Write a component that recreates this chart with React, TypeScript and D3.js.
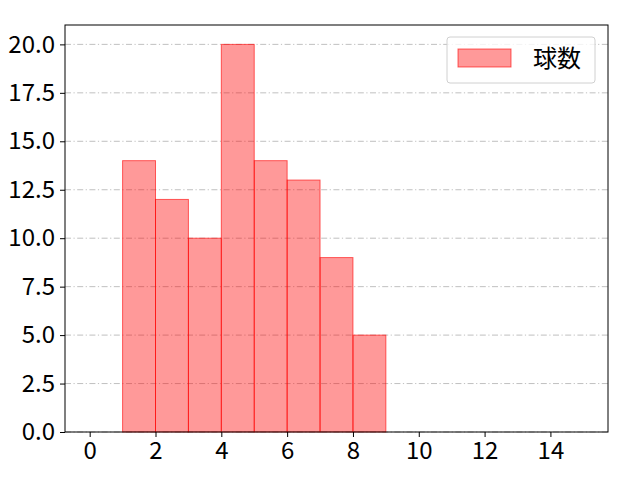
import * as d3 from 'd3';
import React, { useEffect, useRef } from 'react';

// histogram bins (left edge, right edge) and counts
const binStarts = [1, 2, 3, 4, 5, 6, 7, 8];
const binEnds = [2, 3, 4, 5, 6, 7, 8, 9];
const counts = [14, 12, 10, 20, 14, 13, 9, 5];
const xTicks = [0, 2, 4, 6, 8, 10, 12, 14];
const yTicks = [0, 2.5, 5, 7.5, 10, 12.5, 15, 17.5, 20];
const seriesName = '球数';

const App: React.FC = () => {
  const ref = useRef<SVGSVGElement | null>(null);

  useEffect(() => {
    if (!ref.current) return;
    const svg = d3.select(ref.current);
    svg.selectAll('*').remove();

    const margin = { top: 25, right: 32, bottom: 48, left: 65 };
    const width = 640 - margin.left - margin.right;
    const height = 480 - margin.top - margin.bottom;
    const font = '"Noto Sans CJK JP", "Noto Sans", sans-serif';

    const x = d3.scaleLinear().domain([-0.75, 15.75]).range([0, width]);
    const y = d3.scaleLinear().domain([0, 21]).range([height, 0]);

    const g = svg
      .append('g')
      .attr('transform', `translate(${margin.left},${margin.top})`);

    // grid
    g.selectAll('line.grid')
      .data(yTicks)
      .enter()
      .append('line')
      .attr('class', 'grid')
      .attr('x1', 0)
      .attr('x2', width)
      .attr('y1', (d) => y(d))
      .attr('y2', (d) => y(d))
      .attr('stroke', '#b0b0b0')
      .attr('stroke-width', 0.8)
      .attr('stroke-dasharray', '6,2.5,1.2,2.5');

    const data = counts.map((c, i) => ({ x0: binStarts[i], x1: binEnds[i], c }));

    g.selectAll('rect.bar')
      .data(data)
      .enter()
      .append('rect')
      .attr('class', 'bar')
      .attr('x', (d) => x(d.x0))
      .attr('width', (d) => x(d.x1) - x(d.x0))
      .attr('y', (d) => y(d.c))
      .attr('height', (d) => y(0) - y(d.c))
      .attr('fill', 'rgba(255,0,0,0.4)')
      .attr('stroke', 'rgba(255,0,0,0.6)')
      .attr('stroke-width', 1);

    // frame
    g.append('rect')
      .attr('width', width)
      .attr('height', height)
      .attr('fill', 'none')
      .attr('stroke', '#000')
      .attr('stroke-width', 1);

    const xAxis = g
      .append('g')
      .attr('transform', `translate(0,${height})`)
      .call(d3.axisBottom(x).tickValues(xTicks).tickSize(5).tickPadding(5).tickFormat(d3.format('d')));
    const yAxis = g
      .append('g')
      .call(d3.axisLeft(y).tickValues(yTicks).tickSize(5).tickPadding(5).tickFormat(d3.format('.1f')));

    [xAxis, yAxis].forEach((a) => {
      a.select('.domain').remove();
      a.selectAll('text')
        .attr('fill', '#000')
        .style('font-family', font)
        .style('font-size', '24px');
      a.selectAll('line').attr('stroke', '#000');
    });

    // legend
    const lg = g.append('g').attr('transform', `translate(${447 - margin.left},${37 - margin.top})`);
    lg.append('rect')
      .attr('width', 148)
      .attr('height', 46)
      .attr('rx', 3)
      .attr('fill', 'rgba(255,255,255,0.8)')
      .attr('stroke', '#d0d0d0');
    lg.append('rect')
      .attr('x', 11)
      .attr('y', 12)
      .attr('width', 53)
      .attr('height', 18)
      .attr('fill', 'rgba(255,0,0,0.4)')
      .attr('stroke', 'rgba(255,0,0,0.6)');
    lg.append('text')
      .attr('x', 86)
      .attr('y', 22)
      .attr('dy', '0.35em')
      .style('font-family', font)
      .style('font-size', '24px')
      .text(seriesName);
  }, []);

  return <svg ref={ref} width={640} height={480} style={{ display: 'block', margin: -8 }} />;
};

export default App;
